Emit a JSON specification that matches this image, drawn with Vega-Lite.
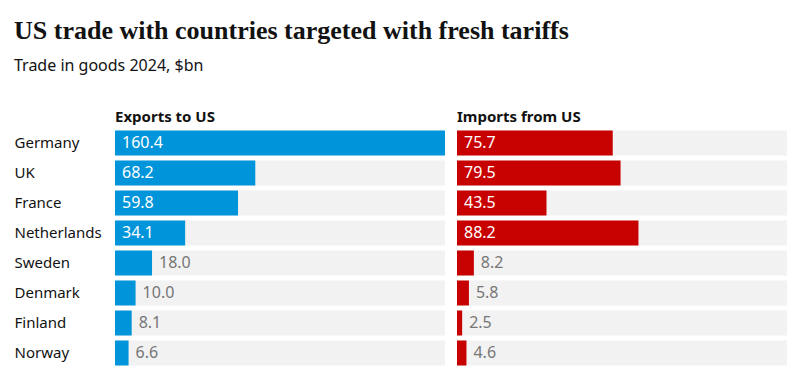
{
  "$schema": "https://vega.github.io/schema/vega-lite/v6.json",
  "padding": {"left": 14, "top": 18, "right": 10, "bottom": 0},
  "background": "white",
  "title": {
    "text": "US trade with countries targeted with fresh tariffs",
    "subtitle": "Trade in goods 2024, $bn",
    "anchor": "start",
    "font": "Liberation Serif",
    "fontSize": 26,
    "fontWeight": "bold",
    "color": "#121212",
    "subtitleFont": "Noto Sans",
    "subtitleFontSize": 16,
    "subtitleColor": "#121212",
    "subtitlePadding": 14,
    "offset": 36
  },
  "data": {
    "values": [
      {"country": "Germany", "exports": 160.4, "imports": 75.7},
      {"country": "UK", "exports": 68.2, "imports": 79.5},
      {"country": "France", "exports": 59.8, "imports": 43.5},
      {"country": "Netherlands", "exports": 34.1, "imports": 88.2},
      {"country": "Sweden", "exports": 18.0, "imports": 8.2},
      {"country": "Denmark", "exports": 10.0, "imports": 5.8},
      {"country": "Finland", "exports": 8.1, "imports": 2.5},
      {"country": "Norway", "exports": 6.6, "imports": 4.6}
    ]
  },
  "spacing": 12,
  "hconcat": [
    {
      "width": 330,
      "height": 240,
      "title": {"text": "Exports to US", "anchor": "start", "frame": "group", "font": "Noto Sans", "fontSize": 15, "fontWeight": "bold", "color": "#121212", "offset": 3},
      "encoding": {
        "y": {
          "field": "country", "type": "nominal", "sort": null,
          "scale": {"paddingInner": 0.1667, "paddingOuter": 0.0833},
          "axis": {"title": null, "domain": false, "ticks": false, "labelAlign": "left", "labelPadding": 101, "labelFont": "Noto Sans", "labelFontSize": 15, "labelColor": "#121212"}
        }
      },
      "layer": [
        {"mark": {"type": "bar", "color": "#f2f2f2"}, "encoding": {"x": {"datum": 160.4, "type": "quantitative", "scale": {"domain": [0, 160.4], "nice": false}, "axis": null}}},
        {"mark": {"type": "bar", "color": "#0095da"}, "encoding": {"x": {"field": "exports", "type": "quantitative"}}},
        {"transform": [{"filter": "datum.exports >= 30"}], "mark": {"type": "text", "align": "left", "dx": 7, "color": "white", "font": "Noto Sans", "fontSize": 16}, "encoding": {"x": {"datum": 0, "type": "quantitative"}, "text": {"field": "exports", "format": ".1f"}}},
        {"transform": [{"filter": "datum.exports < 30"}], "mark": {"type": "text", "align": "left", "dx": 7, "color": "#767676", "font": "Noto Sans", "fontSize": 16}, "encoding": {"x": {"field": "exports", "type": "quantitative"}, "text": {"field": "exports", "format": ".1f"}}}
      ]
    },
    {
      "width": 330,
      "height": 240,
      "title": {"text": "Imports from US", "anchor": "start", "frame": "group", "font": "Noto Sans", "fontSize": 15, "fontWeight": "bold", "color": "#121212", "offset": 3},
      "encoding": {
        "y": {
          "field": "country", "type": "nominal", "sort": null,
          "scale": {"paddingInner": 0.1667, "paddingOuter": 0.0833},
          "axis": null
        }
      },
      "layer": [
        {"mark": {"type": "bar", "color": "#f2f2f2"}, "encoding": {"x": {"datum": 160.4, "type": "quantitative", "scale": {"domain": [0, 160.4], "nice": false}, "axis": null}}},
        {"mark": {"type": "bar", "color": "#c70000"}, "encoding": {"x": {"field": "imports", "type": "quantitative"}}},
        {"transform": [{"filter": "datum.imports >= 30"}], "mark": {"type": "text", "align": "left", "dx": 7, "color": "white", "font": "Noto Sans", "fontSize": 16}, "encoding": {"x": {"datum": 0, "type": "quantitative"}, "text": {"field": "imports", "format": ".1f"}}},
        {"transform": [{"filter": "datum.imports < 30"}], "mark": {"type": "text", "align": "left", "dx": 7, "color": "#767676", "font": "Noto Sans", "fontSize": 16}, "encoding": {"x": {"field": "imports", "type": "quantitative"}, "text": {"field": "imports", "format": ".1f"}}}
      ]
    }
  ],
  "config": {"view": {"stroke": null}}
}
